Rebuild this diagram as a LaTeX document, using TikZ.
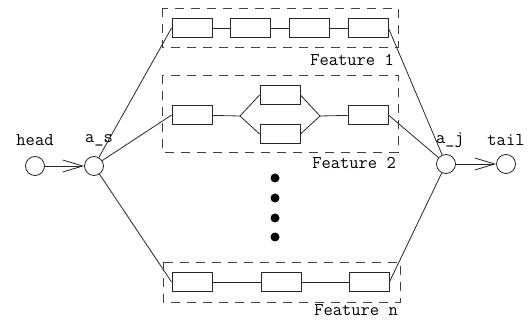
\documentclass[tikz,border=0pt]{standalone}
\usetikzlibrary{arrows.meta}
\begin{document}
\begin{tikzpicture}[x=1pt,y=-1pt,
  ln/.style={line width=0.8pt, draw=black!85},
  circ/.style={circle, draw=black!85, line width=0.8pt, minimum size=19pt, inner sep=0pt},
  blk/.style={rectangle, draw=black!85, line width=0.8pt, minimum width=40pt, minimum height=19pt, inner sep=0pt},
  grp/.style={draw=black!75, line width=0.8pt, dash pattern=on 9pt off 7pt},
  lbl/.style={font=\fontsize{18}{20}\selectfont\ttfamily, inner sep=0pt},
  dot/.style={circle, fill=black, minimum size=9pt, inner sep=0pt},
  arr/.style={-{Straight Barb[length=20pt,width=12pt,line width=0.8pt]}}
]
\useasboundingbox (0,0) rectangle (530,320);
% group boxes
\draw[grp] (162,8) rectangle (398,47);
\draw[grp] (162,75) rectangle (398,152);
\draw[grp] (163,262) rectangle (400,302);
% endpoints
\node[circ] (head) at (35,166) {};
\node[circ] (as) at (94,166) {};
\node[circ] (aj) at (446,164) {};
\node[circ] (tail) at (506,164) {};
\node[lbl] (lhead) at (35,140) {head};
\node[lbl] (las) at (99,140) {a\_s};
\node[lbl] (laj) at (450,140) {a\_j};
\node[lbl] (ltail) at (506,140) {tail};
% feature 1
\node[blk] (a1) at (192,28) {};
\node[blk] (a2) at (250,28) {};
\node[blk] (a3) at (309,28) {};
\node[blk] (a4) at (368,28) {};
\node[lbl, anchor=east] (f1) at (394,60) {Feature 1};
% feature 2
\node[blk] (b1) at (192,115) {};
\node[blk] (b2) at (280,95) {};
\node[blk] (b3) at (280,134) {};
\node[blk] (b4) at (368,115) {};
\coordinate (bl) at (240,116);
\coordinate (br) at (320,116);
\node[lbl, anchor=east] (f2) at (396,163) {Feature 2};
% feature n
\node[blk] (c1) at (192,282) {};
\node[blk] (c2) at (281,282) {};
\node[blk] (c3) at (369,282) {};
\node[lbl, anchor=east] (fn) at (398,310) {Feature n};
% dots
\node[dot] (d1) at (275,178) {};
\node[dot] (d2) at (275,198) {};
\node[dot] (d3) at (275,218) {};
\node[dot] (d4) at (275,237) {};
% connectors
\draw[ln, arr] (head) -- (as);
\draw[ln, arr] (aj) -- (tail);
\draw[ln] (a1) -- (a2); \draw[ln] (a2) -- (a3); \draw[ln] (a3) -- (a4);
\draw[ln] (b1) -- (bl); \draw[ln] (bl) -- (b2.west); \draw[ln] (bl) -- (b3.west);
\draw[ln] (b2.east) -- (br); \draw[ln] (b3.east) -- (br); \draw[ln] (br) -- (b4);
\draw[ln] (c1) -- (c2); \draw[ln] (c2) -- (c3);
\draw[ln] (as) -- (a1.west);
\draw[ln] (as) -- (b1.west);
\draw[ln] (as) -- (c1.west);
\draw[ln] (a4.east) -- (aj);
\draw[ln] (b4.east) -- (aj);
\draw[ln] (c3.east) -- (aj);
\end{tikzpicture}
\end{document}
